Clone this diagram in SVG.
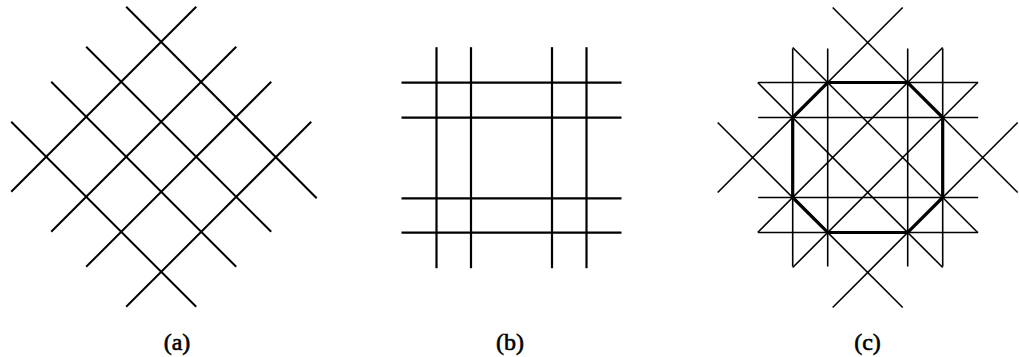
<svg xmlns="http://www.w3.org/2000/svg" width="1019" height="357" viewBox="0 0 1019 357">
  <style>
    .ln { stroke: #000; stroke-width: 2; fill: none; stroke-linecap: butt; }
    .thin { stroke: #000; stroke-width: 1.6; fill: none; stroke-linecap: butt; }
    .oct { stroke: #000; stroke-width: 3.2; fill: none; stroke-linejoin: miter; }
    .lbl { font-family: "Liberation Serif", "Times New Roman", serif; font-size: 24px; fill: #000; stroke: #000; stroke-width: 0.6; text-anchor: middle; }
  </style>
  <rect x="0" y="0" width="1019" height="357" fill="#fff"/>

  <g id="panel-a" transform="translate(161.2,156.8)">
    <g class="ln">
      <line x1="-150" y1="35" x2="35" y2="-150"/>
      <line x1="-110" y1="75" x2="75" y2="-110"/>
      <line x1="-75" y1="110" x2="110" y2="-75"/>
      <line x1="-35" y1="150" x2="150" y2="-35"/>
      <line x1="-35" y1="-150" x2="155.5" y2="41.5"/>
      <line x1="-75" y1="-110" x2="110" y2="75"/>
      <line x1="-110" y1="-75" x2="75" y2="110"/>
      <line x1="-150" y1="-35" x2="35" y2="150"/>
    </g>
  </g>

  <g id="panel-b" transform="translate(511.5,157.7)">
    <g class="ln" style="stroke-width:2.2">
      <line x1="-75" y1="-110.5" x2="-75" y2="110.5"/>
      <line x1="-40.5" y1="-110.5" x2="-40.5" y2="110.5"/>
      <line x1="40.5" y1="-110.5" x2="40.5" y2="110.5"/>
      <line x1="75" y1="-110.5" x2="75" y2="110.5"/>
      <line x1="-110" y1="-75" x2="110" y2="-75"/>
      <line x1="-110" y1="-40" x2="110" y2="-40"/>
      <line x1="-110" y1="40.6" x2="110" y2="40.6"/>
      <line x1="-110" y1="75" x2="110" y2="75"/>
    </g>
  </g>

  <g id="panel-c" transform="translate(867.7,157.5)">
    <g class="thin">
      <line x1="-75" y1="-109" x2="-75" y2="109"/>
      <line x1="-40" y1="-109" x2="-40" y2="109"/>
      <line x1="40" y1="-109" x2="40" y2="109"/>
      <line x1="75" y1="-109" x2="75" y2="109"/>
      <line x1="-109.5" y1="-75" x2="110.5" y2="-75"/>
      <line x1="-109.5" y1="-40" x2="110.5" y2="-40"/>
      <line x1="-109.5" y1="40" x2="110.5" y2="40"/>
      <line x1="-109.5" y1="75" x2="110.5" y2="75"/>
      <line x1="-150" y1="35" x2="35" y2="-150"/>
      <line x1="-110" y1="75" x2="75" y2="-110"/>
      <line x1="-75" y1="110" x2="110" y2="-75"/>
      <line x1="-35" y1="150" x2="150" y2="-35"/>
      <line x1="-35" y1="-150" x2="150" y2="35"/>
      <line x1="-75" y1="-110" x2="110" y2="75"/>
      <line x1="-110" y1="-75" x2="75" y2="110"/>
      <line x1="-150" y1="-35" x2="35" y2="150"/>
    </g>
    <polygon class="oct" points="-40,-75 40,-75 75,-40 75,40 40,75 -40,75 -75,40 -75,-40"/>
  </g>

  <g id="labels">
    <text class="lbl" x="177" y="350">(a)</text>
    <text class="lbl" x="510" y="350">(b)</text>
    <text class="lbl" x="867.5" y="350">(c)</text>
  </g>
</svg>
